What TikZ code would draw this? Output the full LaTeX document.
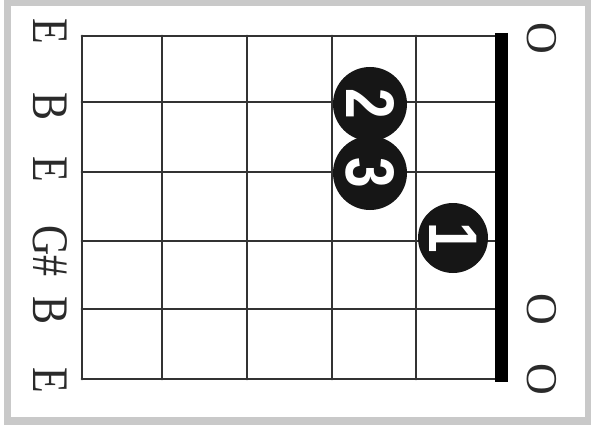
\documentclass[tikz,border=0pt]{standalone}
\usepackage{fontspec}
\setmainfont{Liberation Serif}
\newfontfamily\digitfont{Liberation Sans}
\usepackage{graphicx}
\definecolor{framegray}{HTML}{C9C9C9}
\definecolor{gridgray}{HTML}{333333}
\definecolor{dotblack}{HTML}{161616}
\definecolor{inkgray}{HTML}{2A2A2A}
\begin{document}
\begin{tikzpicture}[x=1pt,y=-1pt,
  gridline/.style={gridgray, line width=2.8pt, line cap=round},
  nutline/.style={black, line width=13pt},
  note/.style={rotate=-90, inner sep=0pt, text=inkgray, font=\fontsize{42}{42}\selectfont},
  opennote/.style={rotate=-90, inner sep=0pt, text=inkgray, font=\fontsize{44}{44}\selectfont},
  fingerdot/.style={circle, fill=dotblack, text=white, inner sep=0pt, rotate=-90,
    font=\digitfont\bfseries\fontsize{55}{55}\selectfont}]
\useasboundingbox (0,0) rectangle (591,425);
\fill[framegray] (4,0) rectangle (591,425);
\fill[white] (11,6) rectangle (585,417);
% grid
\foreach \x in {82,162,247,332,416} \draw[gridline] (\x,36) -- (\x,379);
\foreach \y in {36,102,172,241,309,379} \draw[gridline] (82,\y) -- (501,\y);
\draw[nutline] (501,33) -- (501,381.5);
% string names
\node[note] (s1) at (50,31) {\scalebox{1}[1.22]{E}};
\node[note] (s2) at (50,107) {\scalebox{1}[1.22]{B}};
\node[note] (s3) at (50,169) {\scalebox{1}[1.22]{E}};
\node[note] (s4) at (50,251) {\scalebox{1}[1.22]{G\#}};
\node[note] (s5) at (50,311) {\scalebox{1}[1.22]{B}};
\node[note] (s6) at (50,380) {\scalebox{1}[1.22]{E}};
% open strings
\node[opennote] (o1) at (542,38) {O};
\node[opennote] (o5) at (542,309) {O};
\node[opennote] (o6) at (542,379) {O};
% fingers
\node[fingerdot, minimum size=74pt] (f2) at (370,104) {\scalebox{1}[1.25]{2}};
\node[fingerdot, minimum size=74pt] (f3) at (370,173) {\scalebox{1}[1.25]{3}};
\node[fingerdot, minimum size=70pt] (f1) at (453,238) {\scalebox{1}[1.25]{1}};
\end{tikzpicture}
\end{document}
